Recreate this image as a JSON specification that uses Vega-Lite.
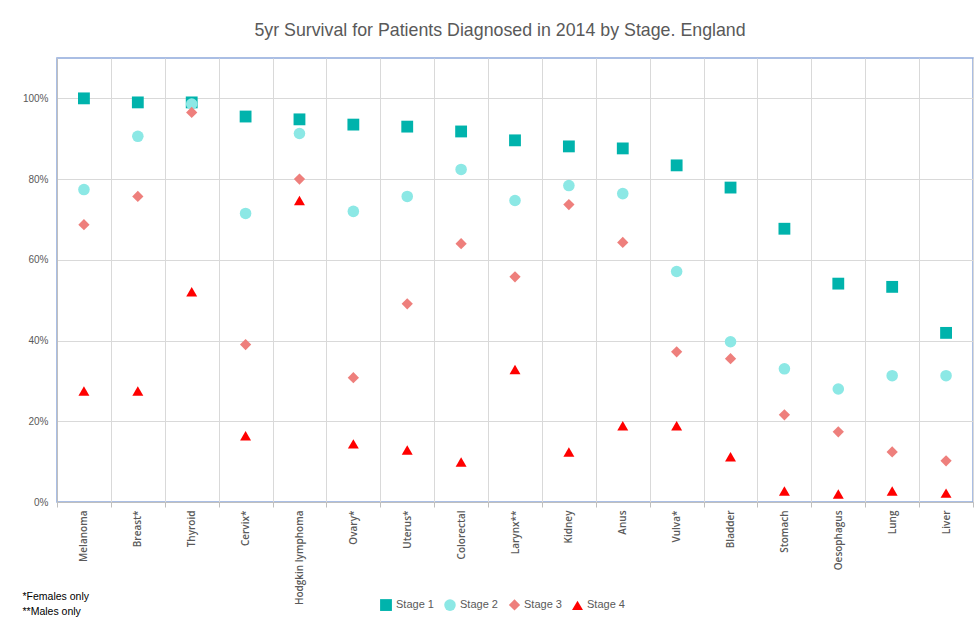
{
  "$schema": "https://vega.github.io/schema/vega-lite/v6.json",
  "width": 916,
  "height": 444,
  "autosize": "none",
  "padding": {"left": 57, "top": 58, "right": 3, "bottom": 117},
  "background": "white",
  "title": {
    "text": "5yr Survival for Patients Diagnosed in 2014 by Stage. England",
    "font": "Liberation Sans",
    "fontSize": 17.8,
    "fontWeight": "normal",
    "color": "#595959",
    "offset": 18,
    "dx": -15
  },
  "config": {
    "view": {"stroke": "#8EA9DB", "strokeWidth": 1.5}
  },
  "data": {
    "values": [
      {"cancer": "Melanoma", "stage": "Stage 1", "value": 1.0},
      {"cancer": "Melanoma", "stage": "Stage 2", "value": 0.774},
      {"cancer": "Melanoma", "stage": "Stage 3", "value": 0.687},
      {"cancer": "Melanoma", "stage": "Stage 4", "value": 0.275},
      {"cancer": "Breast*", "stage": "Stage 1", "value": 0.99},
      {"cancer": "Breast*", "stage": "Stage 2", "value": 0.906},
      {"cancer": "Breast*", "stage": "Stage 3", "value": 0.757},
      {"cancer": "Breast*", "stage": "Stage 4", "value": 0.275},
      {"cancer": "Thyroid", "stage": "Stage 1", "value": 0.99},
      {"cancer": "Thyroid", "stage": "Stage 2", "value": 0.986},
      {"cancer": "Thyroid", "stage": "Stage 3", "value": 0.965},
      {"cancer": "Thyroid", "stage": "Stage 4", "value": 0.521},
      {"cancer": "Cervix*", "stage": "Stage 1", "value": 0.955},
      {"cancer": "Cervix*", "stage": "Stage 2", "value": 0.715},
      {"cancer": "Cervix*", "stage": "Stage 3", "value": 0.39},
      {"cancer": "Cervix*", "stage": "Stage 4", "value": 0.164},
      {"cancer": "Hodgkin lymphoma", "stage": "Stage 1", "value": 0.948},
      {"cancer": "Hodgkin lymphoma", "stage": "Stage 2", "value": 0.913},
      {"cancer": "Hodgkin lymphoma", "stage": "Stage 3", "value": 0.8},
      {"cancer": "Hodgkin lymphoma", "stage": "Stage 4", "value": 0.747},
      {"cancer": "Ovary*", "stage": "Stage 1", "value": 0.935},
      {"cancer": "Ovary*", "stage": "Stage 2", "value": 0.72},
      {"cancer": "Ovary*", "stage": "Stage 3", "value": 0.308},
      {"cancer": "Ovary*", "stage": "Stage 4", "value": 0.144},
      {"cancer": "Uterus*", "stage": "Stage 1", "value": 0.93},
      {"cancer": "Uterus*", "stage": "Stage 2", "value": 0.757},
      {"cancer": "Uterus*", "stage": "Stage 3", "value": 0.491},
      {"cancer": "Uterus*", "stage": "Stage 4", "value": 0.129},
      {"cancer": "Colorectal", "stage": "Stage 1", "value": 0.918},
      {"cancer": "Colorectal", "stage": "Stage 2", "value": 0.824},
      {"cancer": "Colorectal", "stage": "Stage 3", "value": 0.64},
      {"cancer": "Colorectal", "stage": "Stage 4", "value": 0.099},
      {"cancer": "Larynx**", "stage": "Stage 1", "value": 0.896},
      {"cancer": "Larynx**", "stage": "Stage 2", "value": 0.747},
      {"cancer": "Larynx**", "stage": "Stage 3", "value": 0.558},
      {"cancer": "Larynx**", "stage": "Stage 4", "value": 0.328},
      {"cancer": "Kidney", "stage": "Stage 1", "value": 0.881},
      {"cancer": "Kidney", "stage": "Stage 2", "value": 0.784},
      {"cancer": "Kidney", "stage": "Stage 3", "value": 0.737},
      {"cancer": "Kidney", "stage": "Stage 4", "value": 0.124},
      {"cancer": "Anus", "stage": "Stage 1", "value": 0.876},
      {"cancer": "Anus", "stage": "Stage 2", "value": 0.764},
      {"cancer": "Anus", "stage": "Stage 3", "value": 0.643},
      {"cancer": "Anus", "stage": "Stage 4", "value": 0.189},
      {"cancer": "Vulva*", "stage": "Stage 1", "value": 0.834},
      {"cancer": "Vulva*", "stage": "Stage 2", "value": 0.571},
      {"cancer": "Vulva*", "stage": "Stage 3", "value": 0.372},
      {"cancer": "Vulva*", "stage": "Stage 4", "value": 0.189},
      {"cancer": "Bladder", "stage": "Stage 1", "value": 0.779},
      {"cancer": "Bladder", "stage": "Stage 2", "value": 0.397},
      {"cancer": "Bladder", "stage": "Stage 3", "value": 0.355},
      {"cancer": "Bladder", "stage": "Stage 4", "value": 0.112},
      {"cancer": "Stomach", "stage": "Stage 1", "value": 0.677},
      {"cancer": "Stomach", "stage": "Stage 2", "value": 0.33},
      {"cancer": "Stomach", "stage": "Stage 3", "value": 0.216},
      {"cancer": "Stomach", "stage": "Stage 4", "value": 0.027},
      {"cancer": "Oesophagus", "stage": "Stage 1", "value": 0.541},
      {"cancer": "Oesophagus", "stage": "Stage 2", "value": 0.28},
      {"cancer": "Oesophagus", "stage": "Stage 3", "value": 0.174},
      {"cancer": "Oesophagus", "stage": "Stage 4", "value": 0.02},
      {"cancer": "Lung", "stage": "Stage 1", "value": 0.533},
      {"cancer": "Lung", "stage": "Stage 2", "value": 0.313},
      {"cancer": "Lung", "stage": "Stage 3", "value": 0.124},
      {"cancer": "Lung", "stage": "Stage 4", "value": 0.027},
      {"cancer": "Liver", "stage": "Stage 1", "value": 0.419},
      {"cancer": "Liver", "stage": "Stage 2", "value": 0.313},
      {"cancer": "Liver", "stage": "Stage 3", "value": 0.102},
      {"cancer": "Liver", "stage": "Stage 4", "value": 0.022}
    ]
  },
  "mark": {"type": "point", "filled": true, "opacity": 1},
  "encoding": {
    "x": {
      "field": "cancer",
      "type": "nominal",
      "sort": null,
      "scale": {"type": "band", "paddingInner": 0, "paddingOuter": 0},
      "axis": {
        "tickBand": "extent",
        "grid": true,
        "gridColor": "#D9D9D9",
        "gridWidth": 1,
        "domainColor": "#BFBFBF",
        "tickColor": "#BFBFBF",
        "tickSize": 5,
        "labelAngle": -90,
        "labelAlign": "right",
        "labelBaseline": "middle",
        "labelPadding": 3,
        "labelFont": "Open Sans",
        "labelFontSize": 10,
        "labelFontWeight": 600,
        "labelColor": "#595959",
        "title": ["*Females only", "**Males only"],
        "titleX": -35,
        "titleY": 89,
        "titleAlign": "left",
        "titleAnchor": "start",
        "titleBaseline": "top",
        "titleFont": "Liberation Sans",
        "titleFontSize": 10.5,
        "titleFontWeight": "normal",
        "titleColor": "#000000",
        "titleLineHeight": 15
      }
    },
    "y": {
      "field": "value",
      "type": "quantitative",
      "scale": {"domain": [0, 1.1], "nice": false},
      "axis": {
        "values": [0, 0.2, 0.4, 0.6, 0.8, 1.0],
        "format": ".0%",
        "grid": true,
        "gridColor": "#D9D9D9",
        "domainColor": "#BFBFBF",
        "ticks": false,
        "labelPadding": 9,
        "labelFont": "Liberation Sans",
        "labelFontSize": 10,
        "labelColor": "#595959",
        "title": null
      }
    },
    "color": {
      "field": "stage",
      "type": "nominal",
      "scale": {
        "domain": ["Stage 1", "Stage 2", "Stage 3", "Stage 4"],
        "range": ["#00B3AC", "#8CE8E5", "#EE7F7C", "#FF0000"]
      },
      "legend": {
        "title": null,
        "orient": "none",
        "direction": "horizontal",
        "legendX": 322,
        "legendY": 540,
        "symbolSize": 70,
        "symbolOpacity": 1,
        "labelFont": "Liberation Sans",
        "labelFontSize": 11,
        "labelColor": "#595959",
        "columnPadding": 7,
        "labelOffset": 3
      }
    },
    "shape": {
      "field": "stage",
      "type": "nominal",
      "scale": {
        "domain": ["Stage 1", "Stage 2", "Stage 3", "Stage 4"],
        "range": ["square", "circle", "diamond", "triangle-up"]
      }
    },
    "size": {
      "field": "stage",
      "type": "nominal",
      "scale": {
        "domain": ["Stage 1", "Stage 2", "Stage 3", "Stage 4"],
        "range": [140, 120, 75, 150]
      },
      "legend": null
    }
  }
}
